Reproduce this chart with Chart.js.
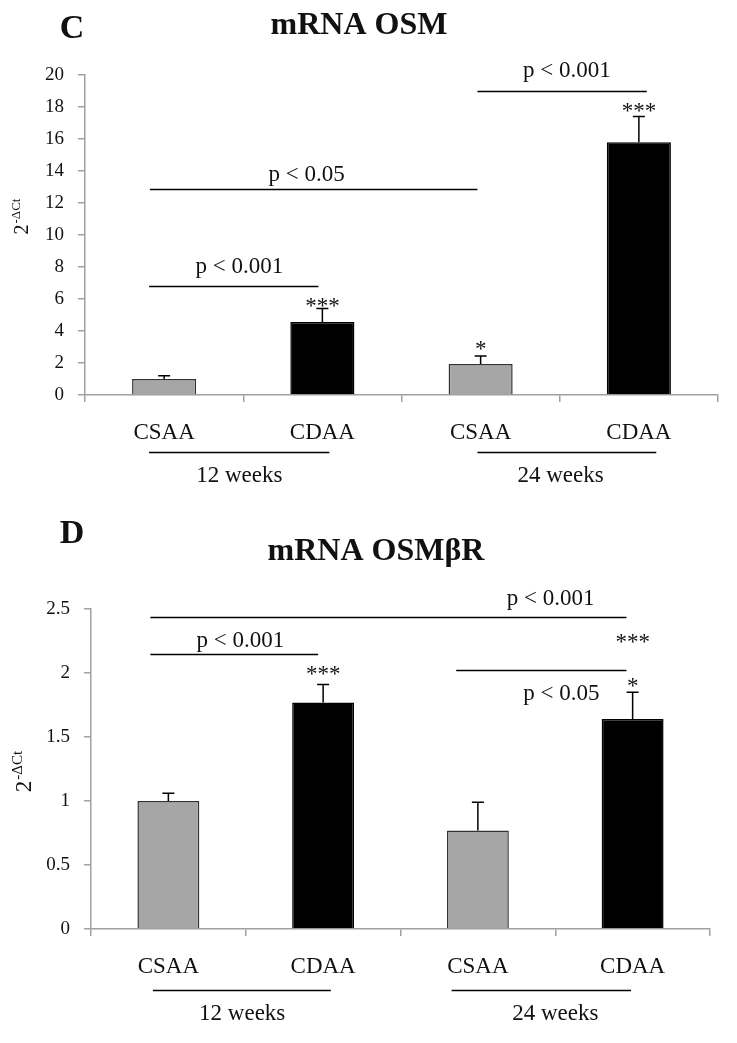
<!DOCTYPE html>
<html>
<head>
<meta charset="utf-8">
<script src="https://cdn.jsdelivr.net/npm/chart.js@4.4.1/dist/chart.umd.min.js"></script>
<style>
    body { margin: 0; background: #fff; }
    canvas { position: absolute; left: 0; }
    #chartC { top: 0; }
    #chartD { top: 500px; }
</style>
</head>
<body>
<canvas id="chartC" width="737" height="500"></canvas>
<canvas id="chartD" width="737" height="543"></canvas>
<script>
// ---- data ----
const groups = ["CSAA", "CDAA", "CSAA", "CDAA"];
const periods = ["12 weeks", "24 weeks"];
const barColors = ["#a6a6a6", "#000000", "#a6a6a6", "#000000"];

const osmMean = [1.0, 4.56, 1.94, 15.8];
const osmErr = [0.2, 0.84, 0.5, 1.6];
const osmTicks = { max: 20, step: 2 };

const osmbrMean = [1.0, 1.77, 0.77, 1.64];
const osmbrErr = [0.06, 0.14, 0.22, 0.21];
const osmbrTicks = { max: 2.5, step: 0.5 };

// brackets: x in category units, y in data units
const osmBrackets = [
    { from: -0.095, to: 0.975, y: 6.8, text: "p < 0.001", tx: 0.475, ty: 7.6 },
    { from: -0.09, to: 1.98, y: 12.9, text: "p < 0.05", tx: 0.9, ty: 13.4 },
    { from: 1.98, to: 3.05, y: 19.0, text: "p < 0.001", tx: 2.545, ty: 19.9 }
];
const osmStars = [
    { x: 1, y: 5.1, text: "***" },
    { x: 2, y: 2.45, text: "*" },
    { x: 3, y: 17.3, text: "***" }
];

const osmbrBrackets = [
    { from: -0.116, to: 2.96, y: 2.44, text: "p < 0.001", tx: 2.47, ty: 2.53 },
    { from: -0.116, to: 0.968, y: 2.15, text: "p < 0.001", tx: 0.465, ty: 2.2 },
    { from: 1.86, to: 2.96, y: 2.02, text: "p < 0.05", tx: 2.54, ty: 1.79 }
];
const osmbrStars = [
    { x: 1, y: 1.94, text: "***" },
    { x: 3, y: 2.19, text: "***" },
    { x: 3, y: 1.84, text: "*" }
];

const SERIF = '"Liberation Serif", "Times New Roman", serif';
const AXIS = "#a0a0a0";

function xAt(chart, v) {
    const s = chart.scales.x;
    const a = s.getPixelForValue(0), b = s.getPixelForValue(1);
    return a + v * (b - a);
}

function makeChart(id, cfg) {
    const extras = {
        id: "extras",
        afterDraw(chart) {
            const ctx = chart.ctx;
            const y = chart.scales.y;
            const area = chart.chartArea;
            ctx.save();

            // error bars (upper only)
            ctx.strokeStyle = "#000";
            ctx.lineWidth = 1.5;
            chart.getDatasetMeta(0).data.forEach((bar, i) => {
                const top = y.getPixelForValue(cfg.mean[i] + cfg.err[i]);
                ctx.beginPath();
                ctx.moveTo(bar.x, bar.y);
                ctx.lineTo(bar.x, top);
                ctx.moveTo(bar.x - 6, top);
                ctx.lineTo(bar.x + 6, top);
                ctx.stroke();
            });

            // comparison brackets
            ctx.fillStyle = "#111";
            ctx.font = `23px ${SERIF}`;
            ctx.textAlign = "center";
            ctx.textBaseline = "alphabetic";
            ctx.lineWidth = 1.5;
            cfg.brackets.forEach(b => {
                const py = Math.round(y.getPixelForValue(b.y)) + 0.5;
                ctx.beginPath();
                ctx.moveTo(xAt(chart, b.from), py);
                ctx.lineTo(xAt(chart, b.to), py);
                ctx.stroke();
                ctx.fillText(b.text, xAt(chart, b.tx), y.getPixelForValue(b.ty));
            });
            cfg.stars.forEach(s => {
                ctx.fillText(s.text, xAt(chart, s.x), y.getPixelForValue(s.y));
            });

            // period lines under the axis
            cfg.periodMarks.forEach((p, i) => {
                const ly = Math.round(area.bottom + cfg.periodLine) + 0.5;
                ctx.beginPath();
                ctx.moveTo(xAt(chart, p.from), ly);
                ctx.lineTo(xAt(chart, p.to), ly);
                ctx.stroke();
                ctx.fillText(periods[i], xAt(chart, p.tx), area.bottom + cfg.periodText);
            });

            // title and panel letter
            ctx.font = `bold 32px ${SERIF}`;
            ctx.fillText(cfg.title, cfg.titleX, cfg.titleY);
            ctx.font = `bold 34px ${SERIF}`;
            ctx.fillText(cfg.letter, 72, cfg.letterY);

            // y axis title 2^-ΔCt
            ctx.translate(cfg.yLabelX, cfg.yLabelY);
            ctx.rotate(-Math.PI / 2);
            ctx.textAlign = "left";
            ctx.font = `${cfg.yBase}px ${SERIF}`;
            const w1 = ctx.measureText("2").width;
            ctx.font = `${cfg.ySup}px ${SERIF}`;
            const w2 = ctx.measureText("-ΔCt").width;
            const start = -(w1 + w2) / 2;
            const base = cfg.yBase * 0.33;
            ctx.font = `${cfg.yBase}px ${SERIF}`;
            ctx.fillText("2", start, base);
            ctx.font = `${cfg.ySup}px ${SERIF}`;
            ctx.fillText("-ΔCt", start + w1 + 1, base - cfg.yBase * 0.36);
            ctx.restore();
        }
    };

    return new Chart(document.getElementById(id), {
        type: "bar",
        data: {
            labels: groups,
            datasets: [{
                data: cfg.mean,
                backgroundColor: barColors,
                borderColor: ["#333", "#000", "#333", "#000"],
                borderWidth: 1.5,
                barPercentage: cfg.barPct,
                categoryPercentage: 1
            }]
        },
        options: {
            responsive: false,
            animation: false,
            devicePixelRatio: 1,
            layout: { padding: { left: 0, right: cfg.padRight, top: cfg.padTop, bottom: 0 } },
            plugins: { legend: { display: false }, tooltip: { enabled: false } },
            scales: {
                x: {
                    afterFit: s => { s.height = cfg.xHeight; },
                    border: { color: AXIS, width: 1.5 },
                    grid: { drawOnChartArea: false, drawTicks: true, tickLength: 7, color: AXIS, lineWidth: 1.5 },
                    ticks: { color: "#111", padding: 17, font: { family: SERIF, size: 23 } }
                },
                y: {
                    min: 0,
                    max: cfg.ticks.max,
                    afterFit: s => { s.width = cfg.yWidth; },
                    border: { color: AXIS, width: 1.5 },
                    grid: { drawOnChartArea: false, drawTicks: true, tickLength: 7, color: AXIS, lineWidth: 1.5 },
                    ticks: {
                        stepSize: cfg.ticks.step,
                        color: "#111",
                        padding: 14,
                        font: { family: SERIF, size: 19 },
                        callback: v => String(v)
                    }
                }
            }
        },
        plugins: [extras]
    });
}

makeChart("chartC", {
    mean: osmMean, err: osmErr, ticks: osmTicks,
    brackets: osmBrackets, stars: osmStars,
    periodMarks: [{ from: -0.095, to: 1.044, tx: 0.475 }, { from: 1.98, to: 3.11, tx: 2.505 }],
    periodLine: 57, periodText: 87,
    title: "mRNA OSM", titleX: 359, titleY: 34, letter: "C", letterY: 38,
    yLabelX: 21, yLabelY: 217, yBase: 20, ySup: 13,
    barPct: 0.405, padRight: 19, padTop: 75, xHeight: 105, yWidth: 85
});

makeChart("chartD", {
    mean: osmbrMean, err: osmbrErr, ticks: osmbrTicks,
    brackets: osmbrBrackets, stars: osmbrStars,
    periodMarks: [{ from: -0.1, to: 1.05, tx: 0.477 }, { from: 1.83, to: 2.99, tx: 2.5 }],
    periodLine: 61, periodText: 91,
    title: "mRNA OSMβR", titleX: 376, titleY: 60, letter: "D", letterY: 43,
    yLabelX: 23, yLabelY: 272, yBase: 23, ySup: 15,
    barPct: 0.40, padRight: 27, padTop: 109, xHeight: 114, yWidth: 91
});
</script>
</body>
</html>
